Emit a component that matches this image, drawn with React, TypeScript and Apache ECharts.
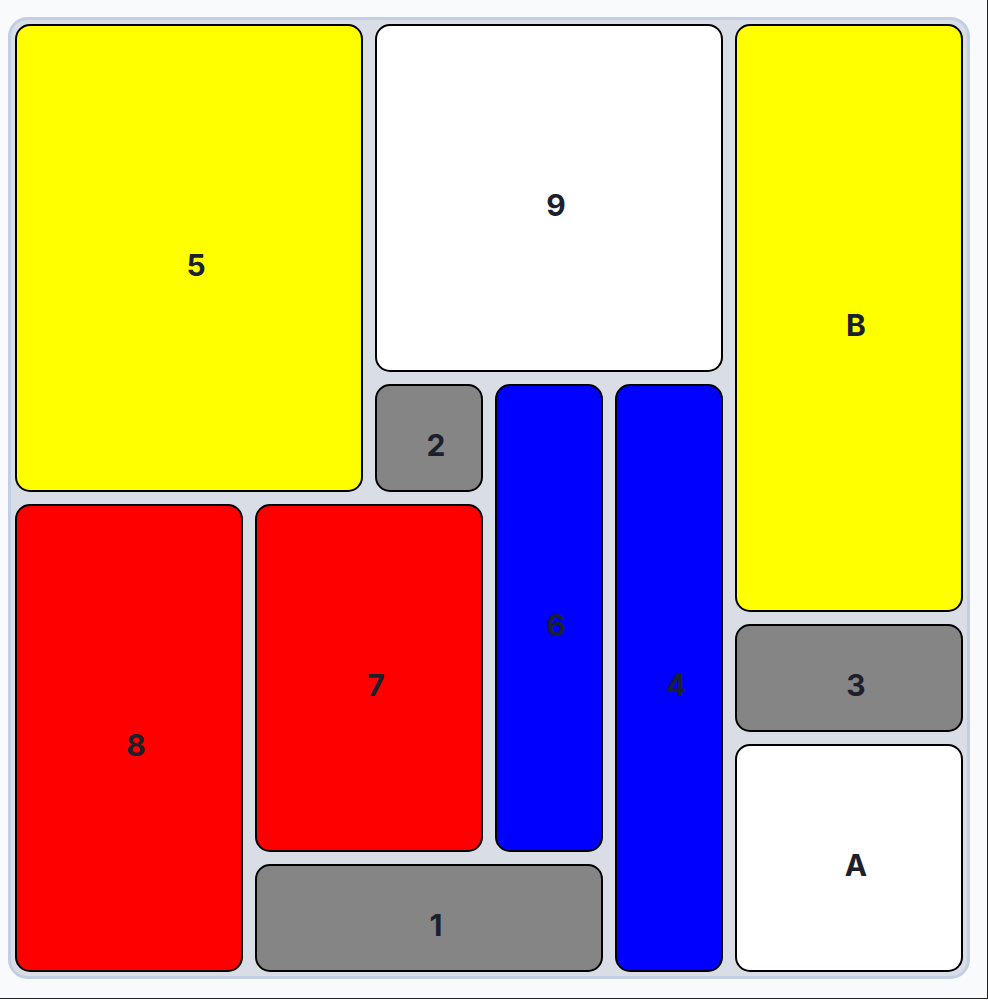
import React, { useEffect, useRef } from "react";
import * as echarts from "echarts";

const labels = ["5", "9", "B", "2", "6", "4", "8", "7", "1", "3", "A"];
const cols = [0, 3, 6, 3, 4, 5, 0, 2, 2, 6, 6];
const rows = [0, 0, 0, 3, 3, 3, 4, 4, 7, 5, 6];
const spanW = [3, 3, 2, 1, 1, 1, 2, 2, 3, 2, 2];
const spanH = [4, 3, 5, 1, 4, 5, 4, 3, 1, 1, 2];
const fills = ["#ffff00", "#ffffff", "#ffff00", "#858585", "#0000ff", "#0000ff", "#ff0000", "#ff0000", "#858585", "#858585", "#ffffff"];

export default function App() {
  const ref = useRef<HTMLDivElement>(null);
  useEffect(() => {
    if (!ref.current) return;
    const chart = echarts.init(ref.current, null, { renderer: "svg" });
    const data = labels.map((l, i) => ({
      value: [cols[i], rows[i], spanW[i], spanH[i]],
      name: l,
      itemStyle: { color: fills[i] },
    }));
    chart.setOption({
      animation: false,
      backgroundColor: "#f8fafc",
      grid: { left: 9, top: 18, width: 960, height: 960 },
      xAxis: { type: "value", min: 0, max: 8, show: false },
      yAxis: { type: "value", min: 0, max: 8, inverse: true, show: false },
      graphic: [
        {
          type: "rect",
          z: -10,
          shape: { x: 9.5, y: 18.5, width: 959, height: 959, r: 18 },
          style: { fill: "#d9dde5", stroke: "#c3cde3", lineWidth: 3 },
        },
      ],
      series: [
        {
          type: "custom",
          data,
          renderItem: (params: any, api: any) => {
            const x = api.value(0), y = api.value(1), w = api.value(2), h = api.value(3);
            const p = api.coord([x, y]);
            const s = api.size([w, h]);
            const i = params.dataIndex;
            const rx = p[0] + 7, ry = p[1] + 7, rw = s[0] - 14, rh = s[1] - 14;
            return {
              type: "group",
              children: [
                {
                  type: "rect",
                  shape: { x: rx, y: ry, width: rw, height: rh, r: 14 },
                  style: { fill: fills[i], stroke: "#000000", lineWidth: 2 },
                },
                {
                  type: "text",
                  style: {
                    x: rx + rw / 2 + 7,
                    y: ry + rh / 2 + 7,
                    text: labels[i],
                    fill: "#1a202c",
                    font: "bold 30px Inter",
                    align: "center",
                    verticalAlign: "middle",
                  },
                },
              ],
            };
          },
        },
      ],
    });
    return () => chart.dispose();
  }, []);
  return (
    <div
      style={{
        position: "fixed",
        left: 0,
        top: 0,
        width: 988,
        height: 999,
        boxSizing: "border-box",
        borderRight: "1px solid #222",
        borderBottom: "1px solid #222",
        background: "#f8fafc",
      }}
    >
      <div ref={ref} style={{ width: 987, height: 998 }} />
    </div>
  );
}
